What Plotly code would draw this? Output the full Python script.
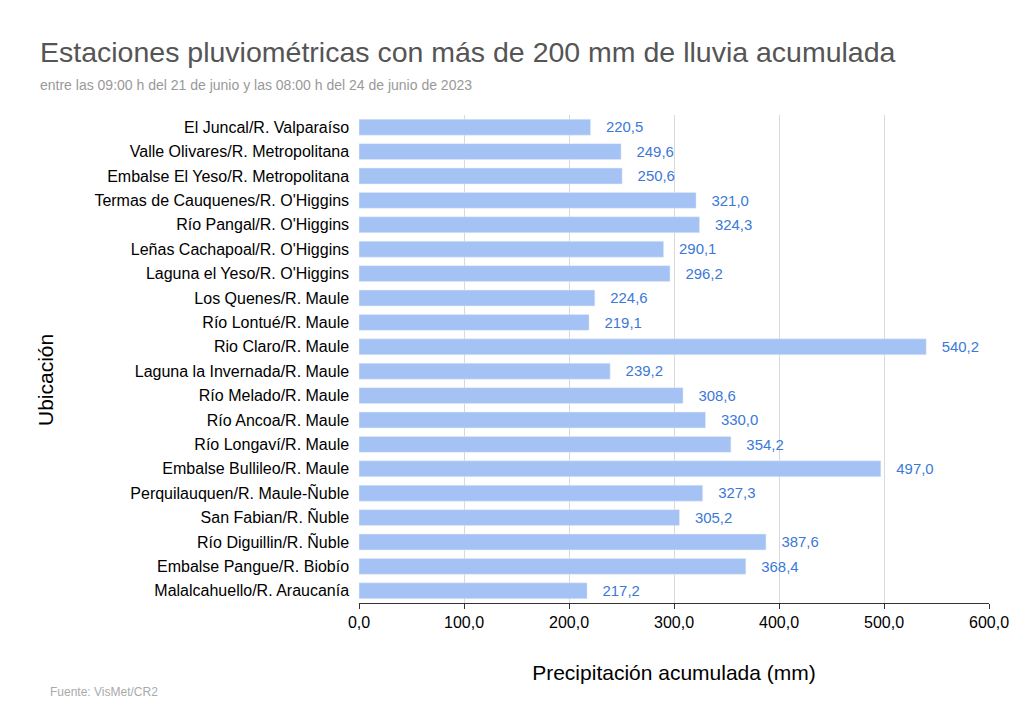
import plotly.graph_objects as go

stations = ["El Juncal/R. Valparaíso","Valle Olivares/R. Metropolitana","Embalse El Yeso/R. Metropolitana",
"Termas de Cauquenes/R. O'Higgins","Río Pangal/R. O'Higgins","Leñas Cachapoal/R. O'Higgins",
"Laguna el Yeso/R. O'Higgins","Los Quenes/R. Maule","Río Lontué/R. Maule","Rio Claro/R. Maule",
"Laguna la Invernada/R. Maule","Río Melado/R. Maule","Río Ancoa/R. Maule","Río Longaví/R. Maule",
"Embalse Bullileo/R. Maule","Perquilauquen/R. Maule-Ñuble","San Fabian/R. Ñuble","Río Diguillin/R. Ñuble",
"Embalse Pangue/R. Biobío","Malalcahuello/R. Araucanía"]
values = [220.5,249.6,250.6,321.0,324.3,290.1,296.2,224.6,219.1,540.2,239.2,308.6,330.0,354.2,497.0,327.3,305.2,387.6,368.4,217.2]
xticks = [0,100,200,300,400,500,600]

# target page pixels of plot area
L, R, T, B = 359, 989, 115, 603
OFF = 8
W, H = R - L, B - T
def px(x, y):
    return (x - L) / W, (B - y) / H

fig = go.Figure(go.Bar(
    y=stations, x=values, orientation="h", marker_color="#a4c2f4", width=0.65,
    text=["   " + f"{v:.1f}".replace(".", ",") for v in values], textposition="outside",
    textfont=dict(color="#3c78d8", size=16), cliponaxis=False))
fig.update_layout(
    width=1024, height=720, plot_bgcolor="white", paper_bgcolor="white",
    font=dict(family="Liberation Sans, Arial", color="#000"),
    margin=dict(l=L - OFF, r=1024 - R + OFF, t=T - OFF, b=720 - B + OFF), showlegend=False,
    xaxis=dict(range=[0,600], tickvals=xticks, ticktext=[f"{t:.1f}".replace(".", ",") for t in xticks],
               showgrid=True, gridcolor="#d9d9d9", zeroline=False, showline=True, linecolor="#333",
               ticks="outside", ticklen=5, tickcolor="#333", tickfont=dict(size=16),
               title=dict(text="Precipitación acumulada (mm)", font=dict(size=21), standoff=35)),
    yaxis=dict(autorange="reversed", tickfont=dict(size=16), ticksuffix="  "),
)
def ann(text, x, y, size, color, **kw):
    ax, ay = px(x, y)
    fig.add_annotation(text=text, xref="paper", yref="paper", x=ax, y=ay, showarrow=False,
                       font=dict(size=size, color=color), yanchor="middle", **kw)
ann("Estaciones pluviométricas con más de 200 mm de lluvia acumulada", 38, 52, 28.5, "#555", xanchor="left")
ann("entre las 09:00 h del 21 de junio y las 08:00 h del 24 de junio de 2023", 38, 85, 14, "#999", xanchor="left")
ann("Fuente: VisMet/CR2", 48, 692, 12, "#aaa", xanchor="left")
ann("Ubicación", 45, 380, 21, "#000", xanchor="center", textangle=-90)
fig.write_html("out.html")
